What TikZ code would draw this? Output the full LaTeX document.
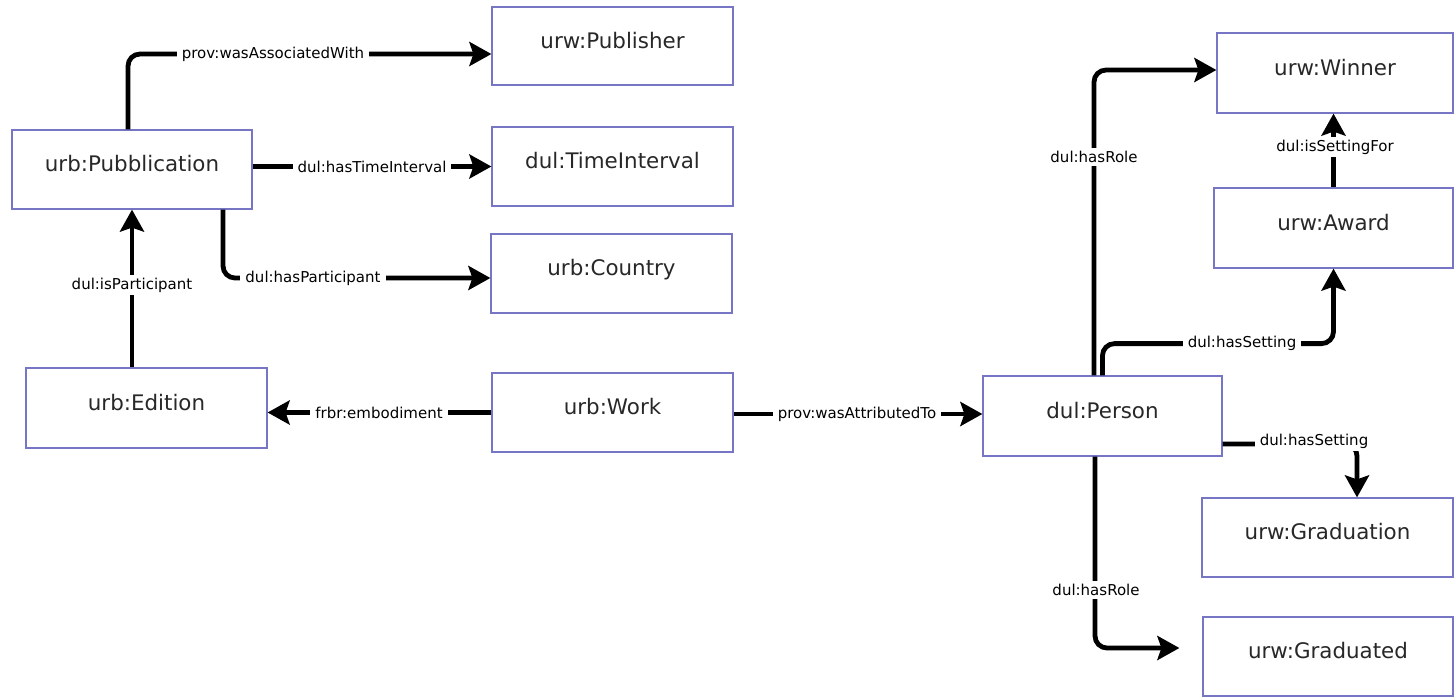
\documentclass[tikz,border=0pt]{standalone}
\usepackage{fontspec}
\setmainfont{DejaVu Sans}
\usetikzlibrary{arrows.meta,calc}
\definecolor{boxline}{RGB}{118,118,196}
\definecolor{boxtext}{RGB}{40,40,40}
\begin{document}
\begin{tikzpicture}[x=0.5pt,y=-0.5pt,
 box/.style={draw=boxline, line width=0.6pt, fill=white, text=boxtext, font=\fontsize{10.7}{12}\selectfont, text height=8pt, text depth=6pt, inner sep=0pt},
 sz/.style 2 args={minimum width=#1*0.5pt, minimum height=#2*0.5pt},
 conn/.style={line width=2.4pt, rounded corners=6pt, -{Stealth[length=11pt,width=12pt,inset=2pt]}},
 elabel/.style={fill=white, font=\fontsize{7.5}{9}\selectfont, inner xsep=2.5pt, inner ysep=1.5pt}]
\fill[white] (0,0) rectangle (1455,697);
\useasboundingbox (0,0) rectangle (1455,697);

\node[box, sz={241}{78}] (pub) at (612.5,46) {urw:Publisher};
\node[box, sz={240}{79}] (pubb) at (132,169.5) {urb:Pubblication};
\node[box, sz={241}{79}] (ti) at (612.5,166.5) {dul:TimeInterval};
\node[box, sz={241}{79}] (country) at (611.5,273.5) {urb:Country};
\node[box, sz={241}{80}] (edition) at (146.5,408) {urb:Edition};
\node[box, sz={241}{79}] (work) at (612.5,412.5) {urb:Work};
\node[box, sz={239}{80}] (person) at (1102.5,416) {dul:Person};
\node[box, sz={236}{80}] (winner) at (1335,73) {urw:Winner};
\node[box, sz={239}{80}] (award) at (1333.5,228) {urw:Award};
\node[box, sz={251}{79}] (graduation) at (1327.5,537.5) {urw:Graduation};
\node[box, sz={250}{79}] (graduated) at (1328,656.5) {urw:Graduated};

\draw[conn] ($(pubb.north)+(-4,0)$) |- ($(pub.west)+(0,8)$);
\draw[conn] (pubb.east |- ti.west) -- (ti.west);
\draw[conn] ($(pubb.south)+(91,0)$) |- ($(country.west)+(0,4.5)$);
\draw[conn] (edition.north -| pubb.south) -- (pubb.south);
\draw[conn] (work.west) -- (work.west -| edition.east);
\draw[conn] ($(work.east)+(0,1.5)$) -- ($(work.east -| person.west)+(0,1.5)$);
\draw[conn] ($(person.north)+(-8.5,0)$) |- ($(winner.west)+(0,-3)$);
\draw[conn] (person.north) |- ($(award.south)+(0,75)$) -- (award.south);
\draw[conn] (award.north) -- (award.north |- winner.south);
\draw[conn] ($(person.east)+(0,28)$) -| ($(graduation.north)+(29.5,0)$);
\coordinate (gdend) at ($(graduated.west)+(-23,-8.5)$);
\draw[conn] ($(person.south)+(-7.5,0)$) |- (gdend);

\node[elabel] (l1) at (273,54) {prov:wasAssociatedWith};
\node[elabel] (l2) at (372,166.5) {dul:hasTimeInterval};
\node[elabel] (l3) at (313,278) {dul:hasParticipant};
\node[elabel] (l4) at (132,285) {dul:isParticipant};
\node[elabel] (l5) at (379,412.5) {frbr:embodiment};
\node[elabel] (l6) at (857,414) {prov:wasAttributedTo};
\node[elabel] (l7) at (1094,157) {dul:hasRole};
\node[elabel] (l8) at (1242,343) {dul:hasSetting};
\node[elabel] (l9) at (1335,147) {dul:isSettingFor};
\node[elabel] (l10) at (1314,441) {dul:hasSetting};
\node[elabel] (l11) at (1096,590) {dul:hasRole};
\end{tikzpicture}
\end{document}
